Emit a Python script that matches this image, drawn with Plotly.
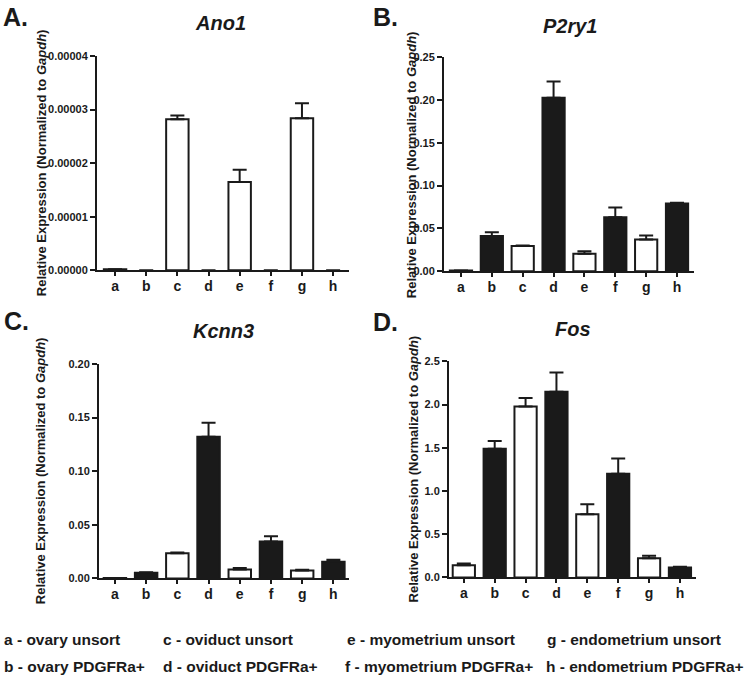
import plotly.graph_objects as go

categories = ["a", "b", "c", "d", "e", "f", "g", "h"]
sorted_flag = [0, 1, 0, 1, 0, 1, 0, 1]  # 0 = unsort (white), 1 = PDGFRa+ (black)

genes = ["Ano1", "P2ry1", "Kcnn3", "Fos"]
panel_letters = ["A.", "B.", "C.", "D."]

ano1_mean = [2e-7, 0, 2.82e-5, 0, 1.65e-5, 0, 2.84e-5, 0]
ano1_err = [0, 0, 0.07e-5, 0, 0.225e-5, 0, 0.28e-5, 0]

p2ry1_mean = [0.001, 0.041, 0.0295, 0.2026, 0.0203, 0.063, 0.037, 0.079]
p2ry1_err = [0, 0.0046, 0.0005, 0.019, 0.003, 0.0115, 0.0046, 0.001]

kcnn3_mean = [0.0005, 0.0052, 0.0235, 0.132, 0.0082, 0.0345, 0.0073, 0.0156]
kcnn3_err = [0, 0.0005, 0.0006, 0.013, 0.0015, 0.0049, 0.0008, 0.0018]

fos_mean = [0.14, 1.489, 1.977, 2.148, 0.731, 1.20, 0.223, 0.114]
fos_err = [0.02, 0.09, 0.10, 0.223, 0.117, 0.175, 0.027, 0.01]

ano1_ticks = [0, 1e-5, 2e-5, 3e-5, 4e-5]
ano1_ticklabels = ["0.00000", "0.00001", "0.00002", "0.00003", "0.00004"]
p2ry1_ticks = [0, 0.05, 0.10, 0.15, 0.20, 0.25]
p2ry1_ticklabels = ["0.00", "0.05", "0.10", "0.15", "0.20", "0.25"]
kcnn3_ticks = [0, 0.05, 0.10, 0.15, 0.20]
kcnn3_ticklabels = ["0.00", "0.05", "0.10", "0.15", "0.20"]
fos_ticks = [0, 0.5, 1.0, 1.5, 2.0, 2.5]
fos_ticklabels = ["0.0", "0.5", "1.0", "1.5", "2.0", "2.5"]

y_max = [4e-5, 0.25, 0.20, 2.5]

legend_rows = [
    ["a - ovary unsort", "c - oviduct unsort", "e - myometrium unsort", "g - endometrium unsort"],
    ["b - ovary PDGFRa+", "d - oviduct PDGFRa+", "f - myometrium PDGFRa+", "h - endometrium PDGFRa+"],
]

means = [ano1_mean, p2ry1_mean, kcnn3_mean, fos_mean]
errs = [ano1_err, p2ry1_err, kcnn3_err, fos_err]
yticks = [ano1_ticks, p2ry1_ticks, kcnn3_ticks, fos_ticks]
yticklabels = [ano1_ticklabels, p2ry1_ticklabels, kcnn3_ticklabels, fos_ticklabels]

W, H = 747, 680
FONT = "Liberation Sans, Arial, sans-serif"
BLACK = "#1a1a1a"

# panel geometry in pixels: x_left, x_right, y_zero, y_top, xrange
geom = [
    (97, 349, 269, 51, [-0.58, 7.51]),
    (444, 694, 270, 52, [-0.55, 7.55]),
    (99, 349, 582.7, 364.3, [-0.51, 7.5]),
    (449, 696, 581.7, 361.7, [-0.48, 7.52]),
]
ytitle_x = [41, 411, 40, 413]
title_pos = [(220, 17), (570, 20), (223, 331), (573, 329)]
letter_pos = [(1, 11), (371, 11), (2, 321), (371, 322)]

fig = go.Figure()
layout = dict(
    width=W, height=H,
    margin=dict(l=0, r=0, t=0, b=0),
    paper_bgcolor="white", plot_bgcolor="white",
    showlegend=False,
    font=dict(family=FONT, color=BLACK),
)
annotations = []

for i in range(4):
    sfx = "" if i == 0 else str(i + 1)
    colors = [BLACK if s else "#ffffff" for s in sorted_flag]
    line_w = [2 if v > 0 else 0 for v in means[i]]
    fig.add_trace(go.Bar(
        x=categories, y=means[i],
        xaxis="x" + sfx, yaxis="y" + sfx,
        width=0.72,
        marker=dict(color=colors, line=dict(color=BLACK, width=line_w)),
        error_y=dict(type="data", array=errs[i], arrayminus=[0] * 8, symmetric=False,
                     color=BLACK, thickness=2, width=7),
    ))
    xl, xr, y0, yt, xrange = geom[i]
    layout["xaxis" + sfx] = dict(
        domain=[xl / W, xr / W], anchor="y" + sfx, type="category", range=xrange,
        tickmode="array", tickvals=categories,
        ticktext=["<b>%s</b>" % c for c in categories],
        showline=True, linecolor=BLACK, linewidth=2, ticks="outside", ticklen=4,
        tickwidth=1.5, tickcolor=BLACK, showgrid=False, zeroline=False,
        ticklabelstandoff=-2,
        tickfont=dict(family=FONT, size=14, color=BLACK),
    )
    layout["yaxis" + sfx] = dict(
        domain=[1 - y0 / H, 1 - yt / H], anchor="x" + sfx, range=[0, y_max[i]],
        tickmode="array", tickvals=yticks[i],
        ticktext=["<b>%s</b>" % t for t in yticklabels[i]],
        showline=True, linecolor=BLACK, linewidth=2, ticks="outside", ticklen=5,
        tickwidth=1.5, tickcolor=BLACK, showgrid=False, zeroline=False,
        tickfont=dict(family=FONT, size=11, color=BLACK),
    )
    annotations.append(dict(
        text="<b>Relative Expression (Normalized to <i>Gapdh</i>)</b>",
        textangle=-90, xref="paper", yref="paper",
        x=ytitle_x[i] / W, y=1 - (y0 + yt) / 2 / H,
        xanchor="center", yanchor="middle", showarrow=False,
        font=dict(family=FONT, size=13, color=BLACK),
    ))
    tx, ty = title_pos[i]
    annotations.append(dict(
        text="<b><i>%s</i></b>" % genes[i], xref="paper", yref="paper",
        x=tx / W, y=1 - ty / H, xanchor="center", yanchor="middle", showarrow=False,
        font=dict(family=FONT, size=20, color=BLACK),
    ))
    lx, ly = letter_pos[i]
    annotations.append(dict(
        text="<b>%s</b>" % panel_letters[i], xref="paper", yref="paper",
        x=lx / W, y=1 - ly / H, xanchor="left", yanchor="middle", showarrow=False,
        font=dict(family=FONT, size=25, color=BLACK),
    ))

col_x = [[2, 161, 345, 545], [2, 161, 343, 544]]
row_y = [645, 672]
for r, row in enumerate(legend_rows):
    for c, txt in enumerate(row):
        annotations.append(dict(
            text="<b>%s</b>" % txt, xref="paper", yref="paper",
            x=col_x[r][c] / W, y=1 - row_y[r] / H, xanchor="left", yanchor="middle",
            showarrow=False, font=dict(family=FONT, size=15.5, color=BLACK),
        ))

layout["annotations"] = annotations
fig.update_layout(**layout)
fig.write_html("out.html", config={"displayModeBar": False},
               post_script="document.body.style.margin='0';document.body.style.padding='0';")
